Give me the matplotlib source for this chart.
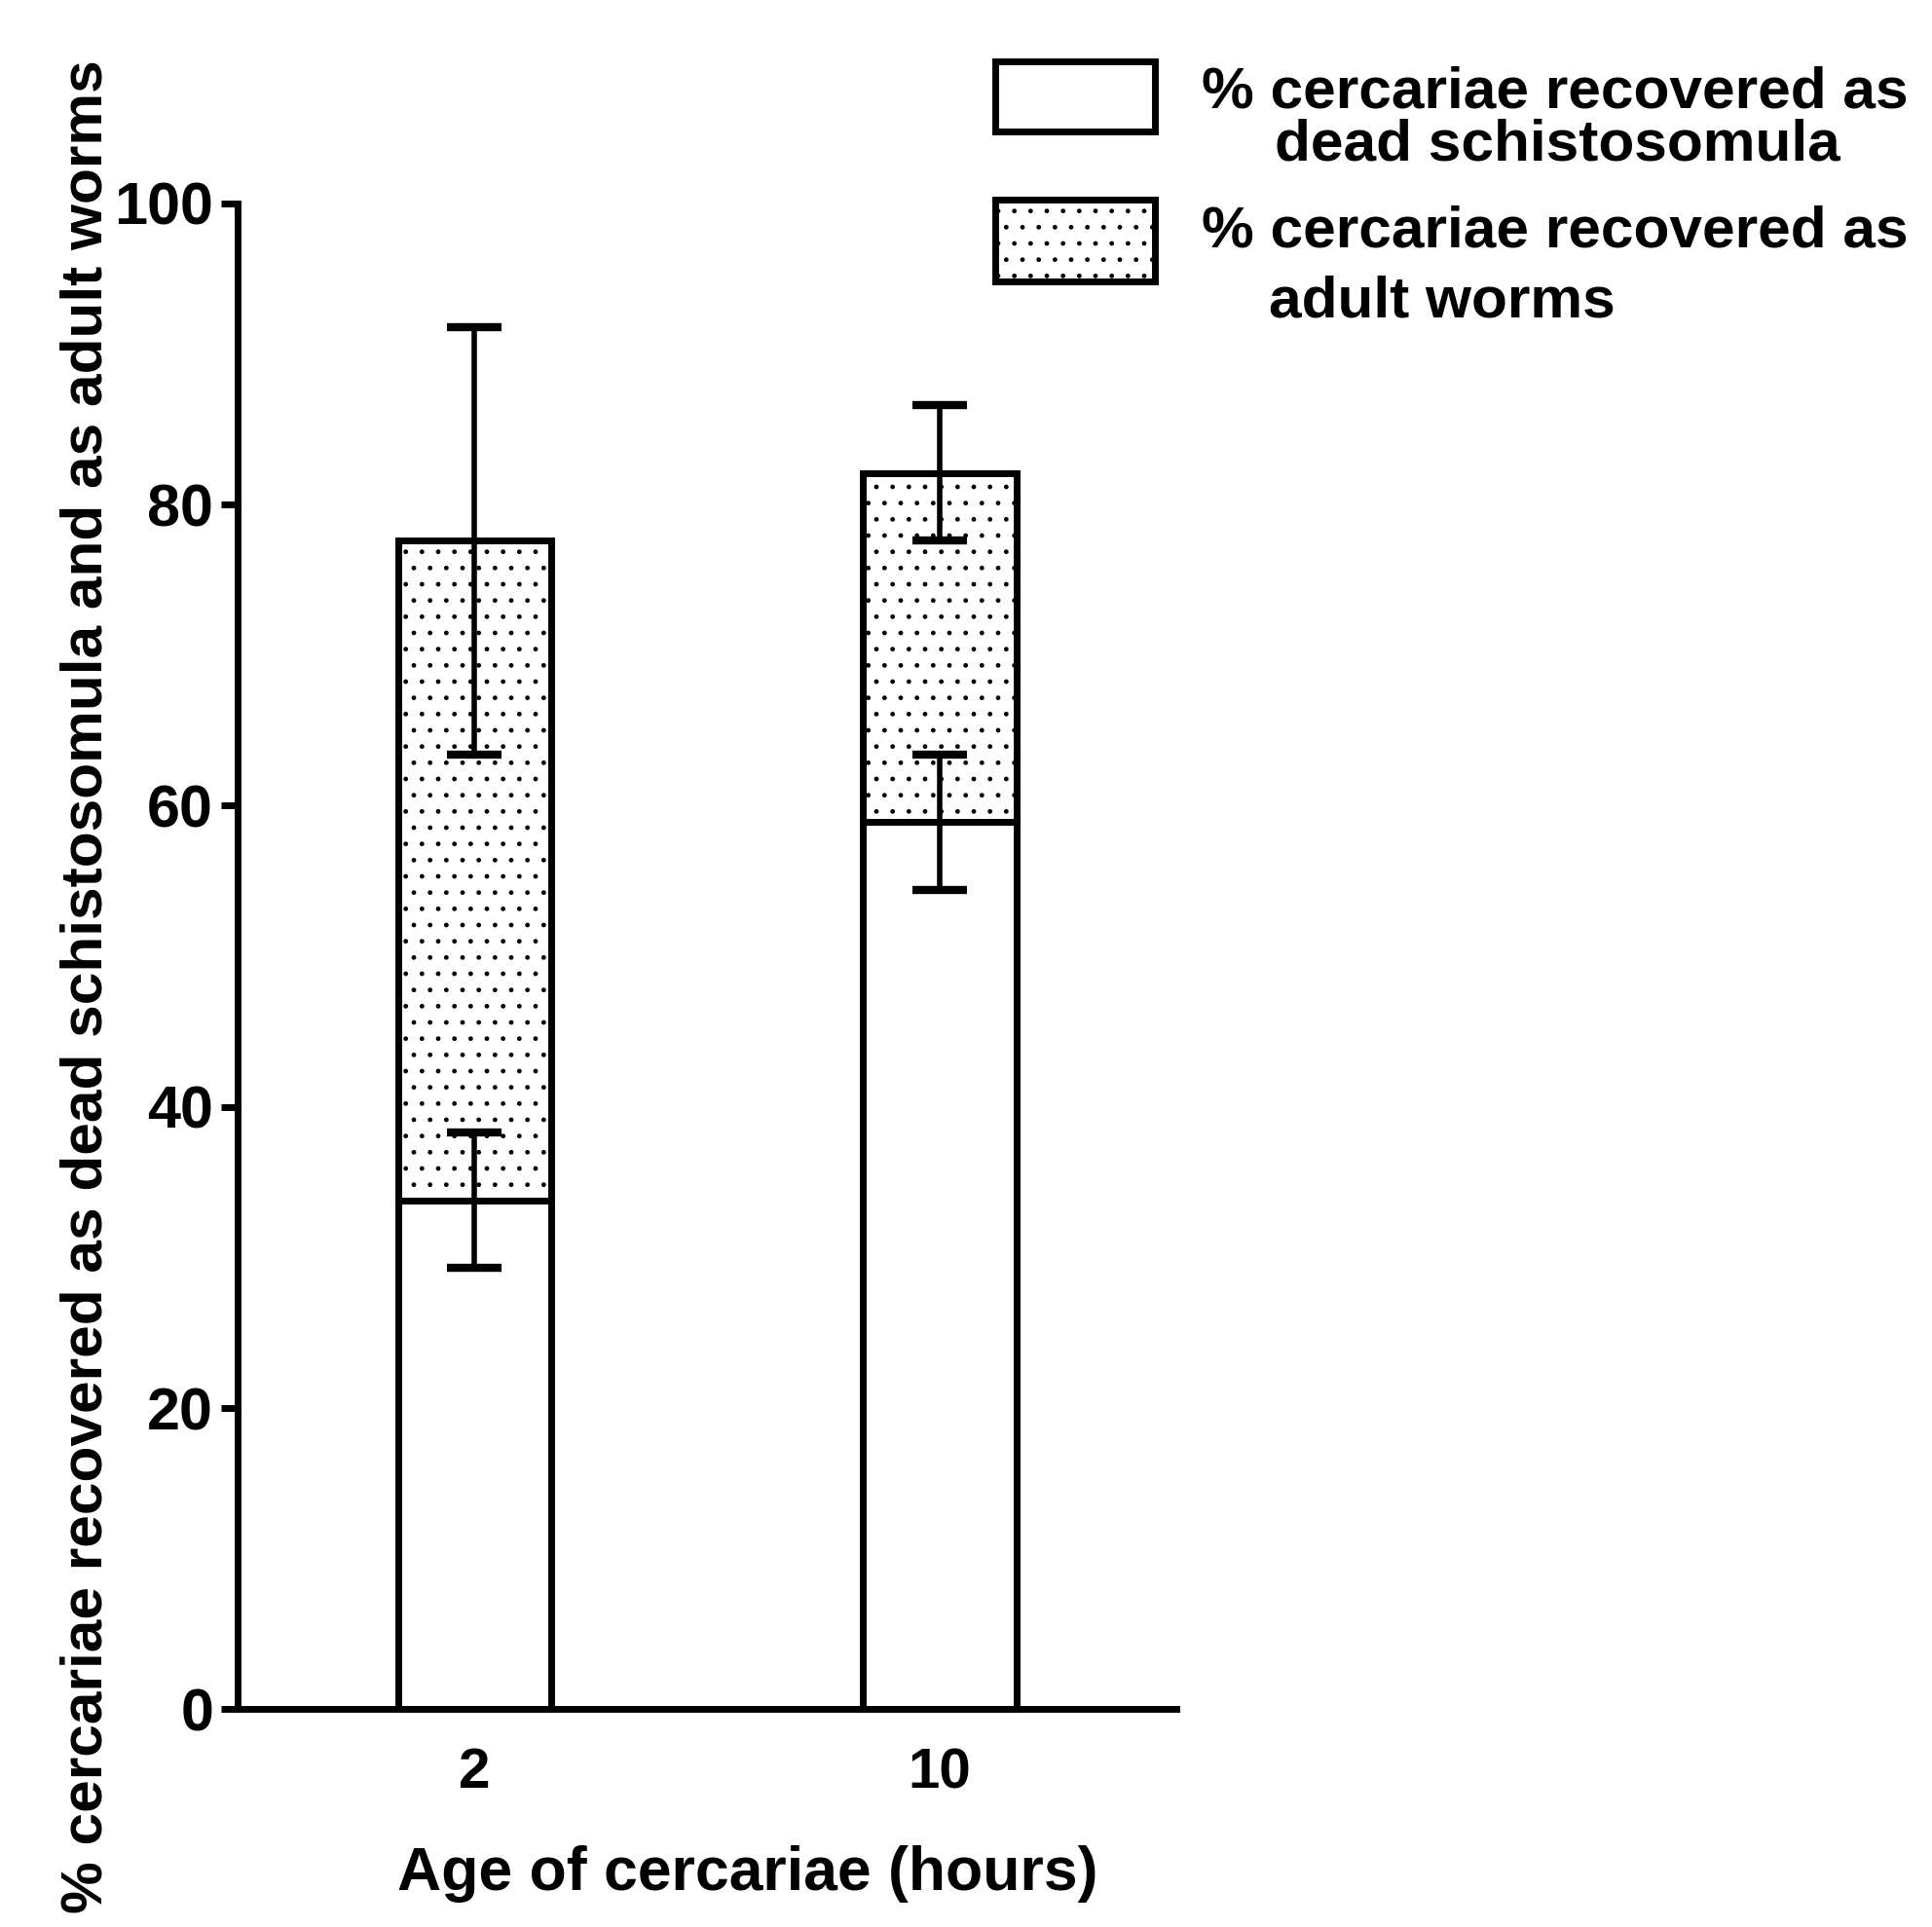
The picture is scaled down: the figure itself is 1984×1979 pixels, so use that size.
import numpy as np
import matplotlib
matplotlib.use("Agg")
from matplotlib import pyplot as plt
from matplotlib.patches import Rectangle

# values
ages = ['2', '10']
dead = [33.8, 58.9]          # % recovered as dead schistosomula
dead_err = [4.5, 4.5]
worms = [43.8, 23.2]         # % recovered as adult worms (stacked on top)
total_err = [14.2, 4.5]
yticks = [0, 20, 40, 60, 80, 100]

plt.rcParams['font.family'] = ['Liberation Sans', 'DejaVu Sans']
plt.rcParams['font.weight'] = 'bold'
plt.rcParams['hatch.linewidth'] = 1.0

fig = plt.figure(figsize=(19.84, 19.79), dpi=100)
ax = fig.add_axes([0.123, 0.113, 0.486, 0.7815])

x = np.arange(len(ages))
total = np.array(dead) + np.array(worms)

ax.bar(x, dead, width=0.33, color='white', edgecolor='black', linewidth=5, zorder=2)
ax.bar(x, worms, bottom=dead, width=0.33, color='white', edgecolor='black',
       hatch='.', linewidth=5, zorder=2)

ax.errorbar(x, dead, yerr=dead_err, fmt='none', ecolor='black', elinewidth=4,
            capsize=20, capthick=6, zorder=3)
ax.errorbar(x, total, yerr=total_err, fmt='none', ecolor='black', elinewidth=4,
            capsize=20, capthick=6, zorder=3)

ax.set_xlim(-0.51, 1.51)
ax.set_ylim(0, 100)
ax.set_xticks(x)
ax.set_xticklabels(ages)
ax.set_yticks(yticks)
ax.tick_params(axis='x', length=0, pad=28, labelsize=42)
ax.tick_params(axis='y', length=12, width=5, pad=6, labelsize=44)
for lab in ax.get_yticklabels() + ax.get_xticklabels():
    lab.set_family(['Liberation Sans Narrow', 'Liberation Sans', 'DejaVu Sans'])
    lab.set_fontweight('bold')

for s in ['top', 'right']:
    ax.spines[s].set_visible(False)
for s in ['left', 'bottom']:
    ax.spines[s].set_linewidth(5)

ax.set_ylabel('% cercariae recovered as dead schistosomula and as adult worms',
              fontsize=43.5, fontweight='bold')
ax.yaxis.set_label_coords(-0.132, 0.48)
ax.set_xlabel('Age of cercariae (hours)', fontsize=45, fontweight='bold')
ax.xaxis.set_label_coords(0.543, -0.09)

# legend drawn by hand in figure coordinates
fig.add_artist(Rectangle((0.515, 0.9316), 0.083, 0.0364, transform=fig.transFigure,
                         facecolor='white', edgecolor='black', linewidth=5))
fig.add_artist(Rectangle((0.515, 0.8542), 0.083, 0.0422, transform=fig.transFigure,
                         facecolor='white', edgecolor='black', hatch='.', linewidth=5))
fig.text(0.622, 0.952, '% cercariae recovered as', fontsize=43.5, va='center', ha='left')
fig.text(0.660, 0.9246, 'dead schistosomula', fontsize=43.5, va='center', ha='left')
fig.text(0.622, 0.8798, '% cercariae recovered as', fontsize=43.5, va='center', ha='left')
fig.text(0.657, 0.8433, 'adult worms', fontsize=43.5, va='center', ha='left')

fig.savefig('out.png', dpi=100, facecolor='white')
